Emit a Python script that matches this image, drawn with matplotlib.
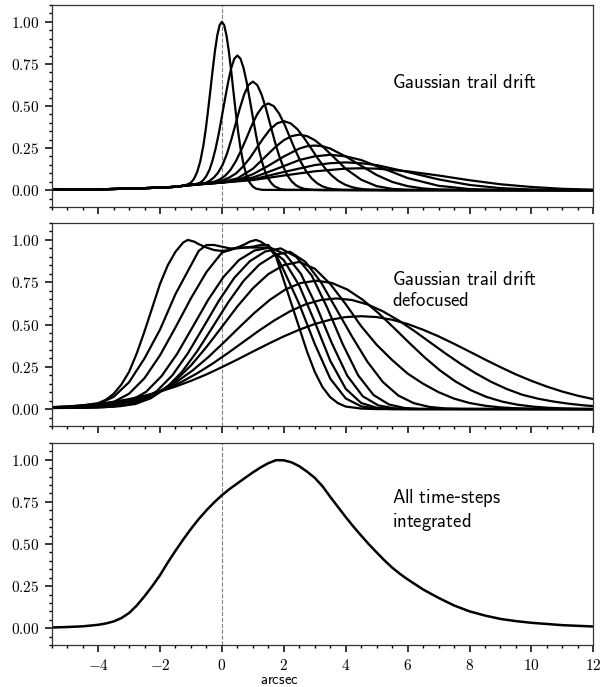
import matplotlib
matplotlib.use("Agg")
import matplotlib.pyplot as plt
from matplotlib.ticker import FuncFormatter, MultipleLocator

plt.rcParams['mathtext.fontset'] = 'cm'

# --- panel 1: Gaussian trail drift (one list of points per time-step)
drift_x = [
    [-5.5, -4, -3, -2, -1.5, -1.25, -1.1, -1.0, -0.9, -0.8, -0.7, -0.6, -0.525, -0.45, -0.375, -0.3, -0.225, -0.15, -0.075, 0,
     0.075, 0.15, 0.225, 0.3, 0.375, 0.45, 0.525, 0.6, 0.7, 0.8, 0.9, 1.0, 1.1, 1.3, 2, 12],
    [-5.5, -4, -3, -2, -1.5, -1.25, -1.1, -0.9, -0.7, -0.6, -0.5, -0.4, -0.3, -0.2, -0.1, 0, 0.1, 0.2, 0.3, 0.4, 0.5,
     0.6, 0.7, 0.8, 0.9, 1.0, 1.1, 1.2, 1.3, 1.4, 1.5, 1.6, 1.7, 1.9, 2.1, 12],
    [-5.5, -4, -3, -2, -1.5, -1.25, -0.96, -0.68, -0.54, -0.4, -0.26, -0.12, 0.02, 0.16, 0.3, 0.44, 0.58, 0.72, 0.86, 1.0,
     1.14, 1.28, 1.42, 1.56, 1.7, 1.84, 1.98, 2.12, 2.26, 2.4, 2.54, 2.68, 2.96, 3.3, 12],
    [-5.5, -4, -3, -2, -1.5, -1.25, -0.95, -0.6, -0.425, -0.25, -0.075, 0.1, 0.275, 0.45, 0.625, 0.8, 0.975, 1.15, 1.325, 1.5,
     1.675, 1.85, 2.025, 2.2, 2.375, 2.55, 2.725, 2.9, 3.075, 3.25, 3.425, 3.6, 3.95, 4.5, 12],
    [-5.5, -4, -3, -2, -1.5, -1.25, -1.08, -0.64, -0.42, -0.2, 0.02, 0.24, 0.46, 0.68, 0.9, 1.12, 1.34, 1.56, 1.78, 2.0,
     2.22, 2.44, 2.66, 2.88, 3.1, 3.32, 3.54, 3.76, 3.98, 4.2, 4.42, 4.64, 5.08, 5.6, 12],
    [-5.5, -4, -3, -2, -1.5, -1.25, -1, -0.5, 0, 0.5, 1.0, 1.5, 1.75, 2.0, 2.25, 2.5, 2.75, 3.0, 3.25, 3.5, 4.0, 4.5, 5.0,
     5.5, 6.0, 12],
    [-5.5, -4, -3, -2, -1.5, -1.25, -1, 0, 0.5, 1.0, 1.5, 2.0, 2.5, 2.75, 3.0, 3.25, 3.5, 4.0, 4.5, 5.0, 5.5, 6.0, 6.5,
     7.0, 8, 12],
    [-5.5, -4, -3, -2, -1.5, -1.25, -1, 0, 1, 1.5, 2, 2.5, 3, 3.5, 4, 4.5, 5, 5.5, 6, 7, 8, 9, 12],
    [-5.5, -4, -3, -2, -1.5, -1.25, -1, 0, 1, 2, 3, 3.5, 4, 4.5, 5, 6, 7, 8, 9, 10, 11, 12],
    [-5.5, -4, -3, -2, -1.5, -1.25, -1, 0, 1, 2, 3, 4, 4.5, 5, 6, 7, 8, 9, 10, 11, 12],
]
drift_y = [
    [0.002, 0.005, 0.009, 0.015, 0.02, 0.026, 0.035, 0.045, 0.068, 0.108, 0.17, 0.265, 0.358, 0.47, 0.59, 0.713, 0.827, 0.92,
     0.98, 1.0, 0.979, 0.917, 0.823, 0.707, 0.581, 0.458, 0.345, 0.249, 0.151, 0.085, 0.044, 0.021, 0.009, 0.002, 0.001, 0.0],
    [0.002, 0.005, 0.009, 0.015, 0.02, 0.026, 0.028, 0.033, 0.045, 0.06, 0.085, 0.122, 0.178, 0.25, 0.338, 0.44, 0.542,
     0.641, 0.725, 0.781, 0.8, 0.781, 0.725, 0.641, 0.538, 0.432, 0.329, 0.238, 0.165, 0.108, 0.068, 0.041, 0.023, 0.006,
     0.002, 0.0],
    [0.002, 0.005, 0.009, 0.015, 0.02, 0.026, 0.03, 0.035, 0.042, 0.055, 0.075, 0.105, 0.15, 0.215, 0.298, 0.392, 0.487,
     0.569, 0.625, 0.645, 0.625, 0.569, 0.487, 0.391, 0.295, 0.209, 0.1395, 0.087, 0.051, 0.028, 0.0147, 0.0072, 0.0014,
     0.0, 0.0],
    [0.002, 0.005, 0.009, 0.015, 0.02, 0.026, 0.032, 0.038, 0.043, 0.05, 0.063, 0.085, 0.12, 0.172, 0.238, 0.312, 0.389,
     0.4545, 0.499, 0.515, 0.499, 0.4545, 0.389, 0.312, 0.236, 0.167, 0.111, 0.0697, 0.041, 0.0226, 0.0117, 0.0057, 0.0011,
     0.0, 0.0],
    [0.002, 0.005, 0.009, 0.015, 0.02, 0.026, 0.033, 0.038, 0.042, 0.048, 0.058, 0.075, 0.1, 0.14, 0.19, 0.25, 0.309, 0.362,
     0.397, 0.41, 0.397, 0.362, 0.309, 0.249, 0.188, 0.133, 0.0887, 0.0555, 0.0326, 0.018, 0.0093, 0.0046, 0.0009, 0.0, 0.0],
    [0.002, 0.005, 0.009, 0.015, 0.02, 0.026, 0.033, 0.04, 0.048, 0.07, 0.127, 0.216, 0.26, 0.297, 0.321, 0.33, 0.321, 0.297,
     0.26, 0.216, 0.127, 0.062, 0.024, 0.0075, 0.002, 0.0],
    [0.002, 0.005, 0.009, 0.015, 0.02, 0.026, 0.033, 0.045, 0.06, 0.095, 0.145, 0.20, 0.247, 0.261, 0.265, 0.261, 0.247,
     0.20, 0.145, 0.09, 0.049, 0.024, 0.01, 0.004, 0.0, 0.0],
    [0.002, 0.005, 0.009, 0.015, 0.02, 0.026, 0.033, 0.045, 0.075, 0.108, 0.143, 0.179, 0.201, 0.21, 0.201, 0.179, 0.143,
     0.108, 0.072, 0.026, 0.0066, 0.001, 0.0],
    [0.002, 0.005, 0.009, 0.015, 0.02, 0.026, 0.031, 0.045, 0.064, 0.108, 0.149, 0.16, 0.165, 0.16, 0.149, 0.108, 0.064,
     0.031, 0.012, 0.0038, 0.001, 0.0],
    [0.002, 0.005, 0.009, 0.015, 0.02, 0.025, 0.03, 0.045, 0.06, 0.087, 0.112, 0.128, 0.13, 0.128, 0.112, 0.087, 0.059,
     0.035, 0.019, 0.008, 0.003],
]

# --- panel 2: defocused trail, one list of points per time-step
grid = [-5.5, -5, -4.5, -4, -3.5, -3, -2.5, -2, -1.5, -1, -0.5, 0, 0.5, 1, 1.5, 2, 2.5, 3,
        3.5, 4, 4.5, 5, 5.5, 6, 6.5, 7, 7.5, 8, 8.5, 9, 9.5, 10, 10.5, 11, 11.5, 12]
defoc_x = [
    [-5.5, -5, -4.5, -4, -3.75, -3.5, -3.25, -3, -2.75, -2.5, -2.25, -2, -1.75, -1.5, -1.25, -1.1, -0.9, -0.75,
     -0.5, -0.25, 0, 0.25, 0.5, 0.75, 0.9, 1.1, 1.25, 1.5, 1.75, 2, 2.25, 2.5, 2.75, 3, 3.25, 3.5, 3.75, 4, 4.5, 5, 12],
    [-5.5, -5, -4.5, -4, -3.5, -3, -2.5, -2, -1.5, -1, -0.75, -0.5, -0.25, 0, 0.25, 0.5, 0.75, 1, 1.25, 1.5,
     1.75, 2, 2.5, 3, 3.5, 4, 4.5, 5, 5.5, 12],
    grid,
    [-5.95, -5.45, -4.95, -4.45, -3.95, -3.45, -2.95, -2.45, -1.95, -1.45, -0.95, -0.45, 0.05, 0.55, 1.05, 1.55,
     2.05, 2.55, 3.05, 3.55, 4.05, 4.55, 5.05, 5.55, 6.05, 12],
    [-6.1, -5.6, -5.1, -4.6, -4.1, -3.6, -3.1, -2.6, -2.1, -1.6, -1.1, -0.6, -0.1, 0.4, 0.9, 1.4, 1.9,
     2.4, 2.9, 3.4, 3.9, 4.4, 4.9, 5.4, 5.9, 6.4, 12],
    [-5.8, -5.3, -4.8, -4.3, -3.8, -3.3, -2.8, -2.3, -1.8, -1.3, -0.8, -0.3, 0.2, 0.7, 1.2, 1.7, 2.2,
     2.7, 3.2, 3.7, 4.2, 4.7, 5.2, 5.7, 6.2, 6.7, 7.2, 7.7, 12],
    [-5.5, -5, -4.5, -4, -3.5, -3, -2.5, -2, -1.5, -1, -0.5, 0, 0.5, 1, 1.5, 2, 2.5,
     3, 3.5, 4, 4.5, 5, 5.5, 6, 6.5, 7, 7.5, 8, 8.5, 9, 9.5, 10, 10.5, 12],
    [-5.95, -5.45, -4.95, -4.45, -3.95, -3.45, -2.95, -2.45, -1.95, -1.45, -0.95, -0.45, 0.05, 0.55, 1.05, 1.55,
     2.05, 2.55, 3.05, 3.55, 4.05, 4.55, 5.05, 5.55, 6.05, 6.55, 7.05, 7.55, 8.05, 8.55, 9.05, 9.55, 10.05, 10.55,
     11.05, 11.55, 12.05, 12.55],
    [-5.8, -5.3, -4.8, -4.3, -3.8, -3.3, -2.8, -2.3, -1.8, -1.3, -0.8, -0.3, 0.2, 0.7, 1.2, 1.7, 2.2, 2.7, 3.2,
     3.7, 4.2, 4.7, 5.2, 5.7, 6.2, 6.7, 7.2, 7.7, 8.2, 8.7, 9.2, 9.7, 10.2, 10.7, 11.2, 11.7, 12.2],
    grid,
]
defoc_y = [
    [0.012, 0.015, 0.022, 0.035, 0.055, 0.09, 0.145, 0.22, 0.33, 0.46, 0.6, 0.74, 0.85, 0.93, 0.985, 1.0, 0.99, 0.975,
     0.955, 0.94, 0.935, 0.94, 0.955, 0.975, 0.99, 1.0, 0.99, 0.96, 0.90, 0.76, 0.62, 0.48, 0.34, 0.22, 0.13, 0.07,
     0.035, 0.015, 0.003, 0, 0],
    [0.011, 0.014, 0.02, 0.03, 0.072, 0.159, 0.30, 0.47, 0.68, 0.85, 0.935, 0.97, 0.97, 0.96, 0.95, 0.95, 0.955, 0.96,
     0.97, 0.97, 0.91, 0.82, 0.62, 0.385, 0.18, 0.063, 0.016, 0.003, 0, 0],
    [0.01, 0.012, 0.016, 0.024, 0.042, 0.091, 0.183, 0.318, 0.483, 0.655, 0.81, 0.925, 0.955, 0.955, 0.955, 0.88, 0.73, 0.515,
     0.286, 0.12, 0.036, 0.008, 0.001, 0, 0, 0, 0, 0, 0, 0, 0, 0, 0, 0, 0, 0],
    [0.008, 0.009, 0.01, 0.012, 0.015, 0.025, 0.05, 0.102, 0.195, 0.326, 0.484, 0.644, 0.781, 0.881, 0.937, 0.955,
     0.915, 0.80, 0.61, 0.39, 0.197, 0.076, 0.022, 0.005, 0.001, 0],
    [0.007, 0.008, 0.009, 0.01, 0.012, 0.016, 0.025, 0.05, 0.107, 0.20, 0.33, 0.484, 0.64, 0.776, 0.874, 0.9315, 0.95,
     0.90, 0.79, 0.60, 0.385, 0.20, 0.083, 0.027, 0.0065, 0.001, 0],
    [0.007, 0.008, 0.009, 0.01, 0.012, 0.017, 0.03, 0.064, 0.125, 0.218, 0.342, 0.485, 0.63, 0.758, 0.853, 0.911, 0.93,
     0.87, 0.75, 0.59, 0.43, 0.28, 0.16, 0.08, 0.035, 0.013, 0.004, 0.001, 0],
    [0.006, 0.007, 0.008, 0.009, 0.015, 0.03, 0.058, 0.103, 0.169, 0.258, 0.367, 0.486, 0.607, 0.714, 0.798, 0.851, 0.87,
     0.83, 0.74, 0.62, 0.49, 0.38, 0.29, 0.21, 0.15, 0.10, 0.062, 0.036, 0.02, 0.01, 0.005, 0.0025, 0.001, 0],
    [0.006, 0.007, 0.008, 0.01, 0.015, 0.026, 0.0445, 0.072, 0.111, 0.163, 0.228, 0.3056, 0.392, 0.4815, 0.5685, 0.646,
     0.707, 0.7455, 0.759, 0.7455, 0.707, 0.646, 0.5685, 0.4815, 0.392, 0.3056, 0.228, 0.163, 0.111, 0.072, 0.0445,
     0.026, 0.0147, 0.0078, 0.004, 0.002, 0.001, 0.0005],
    [0.006, 0.008, 0.011, 0.016, 0.026, 0.04, 0.0595, 0.085, 0.119, 0.161, 0.2115, 0.269, 0.332, 0.398, 0.464, 0.525, 0.578,
     0.619, 0.645, 0.654, 0.645, 0.619, 0.578, 0.525, 0.464, 0.398, 0.332, 0.269, 0.2115, 0.161, 0.119, 0.085, 0.062,
     0.045, 0.032, 0.022, 0.015],
    [0.01, 0.015, 0.022, 0.031, 0.043, 0.059, 0.079, 0.1035, 0.133, 0.167, 0.205, 0.248, 0.293, 0.34, 0.386, 0.43, 0.469, 0.503,
     0.528, 0.544, 0.549, 0.544, 0.528, 0.503, 0.469, 0.43, 0.386, 0.34, 0.293, 0.248, 0.205, 0.167, 0.133, 0.1035, 0.079, 0.059],
]

# --- panel 3: all time-steps integrated
integ_x = [-5.5, -5, -4.5, -4, -3.75, -3.5, -3.25, -3, -2.75, -2.5, -2.25, -2, -1.75, -1.5, -1.25, -1, -0.75, -0.5,
           -0.25, 0, 0.25, 0.5, 0.75, 1, 1.25, 1.5, 1.75, 2, 2.25, 2.5, 2.75, 3, 3.25, 3.5, 3.75, 4, 4.25, 4.5,
           4.75, 5, 5.25, 5.5, 5.75, 6, 6.5, 7, 7.5, 8, 8.5, 9, 9.5, 10, 11, 12]
integ_y = [0.004, 0.007, 0.011, 0.02, 0.028, 0.04, 0.06, 0.09, 0.135, 0.19, 0.25, 0.315, 0.39, 0.46, 0.527, 0.59, 0.648,
           0.70, 0.747, 0.79, 0.827, 0.86, 0.893, 0.925, 0.955, 0.98, 0.998, 0.997, 0.985, 0.962, 0.93, 0.893, 0.843,
           0.78, 0.72, 0.66, 0.603, 0.55, 0.498, 0.45, 0.403, 0.36, 0.323, 0.29, 0.23, 0.18, 0.135, 0.10, 0.075, 0.055,
           0.042, 0.032, 0.018, 0.01]

labels = [r"$\mathsf{Gaussian\ trail\ drift}$",
          "$\\mathsf{Gaussian\\ trail\\ drift}$\n$\\mathsf{defocused}$",
          "$\\mathsf{All\\ time}$-$\\mathsf{steps}$\n$\\mathsf{integrated}$"]
label_y = [0.614, 0.67, 0.668]

fig = plt.figure(figsize=(6.04, 6.87), dpi=100)
boxes = [[0.0856, 0.6987, 0.8967, 0.294],
         [0.0856, 0.3799, 0.8967, 0.2955],
         [0.0856, 0.0611, 0.8967, 0.2941]]
axes = []
for i, b in enumerate(boxes):
    ax = fig.add_axes(b, sharex=axes[0] if axes else None)
    axes.append(ax)

for xs, ys in zip(drift_x, drift_y):
    axes[0].plot(xs, ys, color='k', lw=1.6)
for xs, ys in zip(defoc_x, defoc_y):
    axes[1].plot(xs, ys, color='k', lw=1.6)
axes[2].plot(integ_x, integ_y, color='k', lw=1.8)

for i, ax in enumerate(axes):
    ax.axvline(0, color='grey', lw=0.8, ls='--', zorder=0)
    ax.set_xlim(-5.5, 12)
    ax.set_ylim(-0.1, 1.1)
    ax.xaxis.set_major_locator(MultipleLocator(2))
    ax.xaxis.set_minor_locator(MultipleLocator(0.5))
    ax.yaxis.set_major_locator(MultipleLocator(0.25))
    ax.yaxis.set_minor_locator(MultipleLocator(0.05))
    ax.yaxis.set_major_formatter(FuncFormatter(lambda v, p: f"${v:.2f}$"))
    ax.xaxis.set_major_formatter(FuncFormatter(lambda v, p: f"${v:g}$"))
    ax.tick_params(which='major', direction='out', length=5, width=1.1, labelsize=11, pad=4)
    ax.tick_params(which='minor', direction='out', length=2.5, width=1.0)
    for s in ax.spines.values():
        s.set_color('#333333')
        s.set_linewidth(0.9)
    if i < 2:
        ax.tick_params(labelbottom=False)
    ax.text(0.628, label_y[i], labels[i], transform=ax.transAxes, fontsize=13.5,
            ha='left', va='center', linespacing=1.1)

fig.text(279 / 604, 1 - 679 / 687, r"$\mathsf{arcsec}$", fontsize=10.5, ha='center', va='center')

fig.savefig("out.png", dpi=100)
